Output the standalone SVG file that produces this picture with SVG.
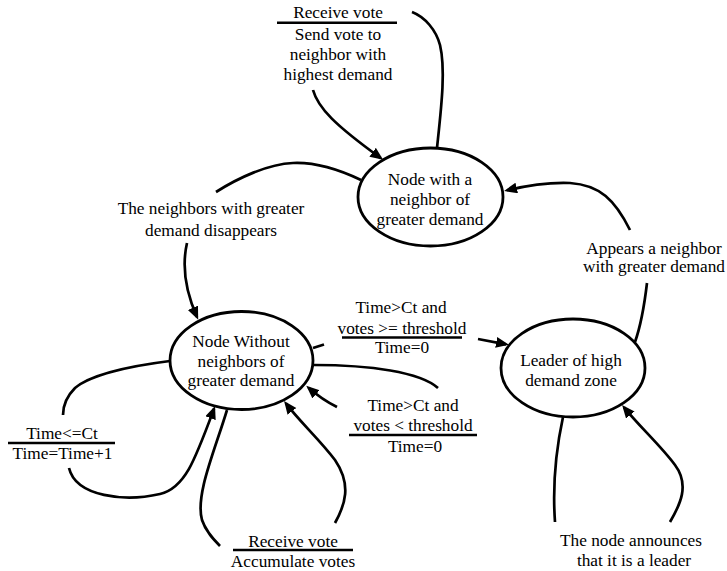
<svg xmlns="http://www.w3.org/2000/svg" width="727" height="571" viewBox="0 0 727 571" font-family="'Liberation Serif', 'Times New Roman', Times, 'DejaVu Serif', serif">
<style>
.node{fill:#fff;stroke:#000;stroke-width:2.8}
.edge{fill:none;stroke:#000;stroke-width:2.7}
.arr{marker-end:url(#ah)}
.t{font-family:'Liberation Serif','Times New Roman',Times,'DejaVu Serif',serif;font-size:17.3px;fill:#000;text-anchor:middle}
.ul{stroke:#000;stroke-width:2.4}
</style>
<defs>
<marker id="ah" markerUnits="userSpaceOnUse" markerWidth="14" markerHeight="12" refX="10" refY="5.5" orient="auto">
<path d="M0,0 L13,5.5 L0,11 Z" fill="#000"/>
</marker>
</defs>
<rect width="727" height="571" fill="#fff"/>
<g id="connectors">
<path class="edge" d="M437,148 C441,110 446,70 440,45 C436,30 425,17 412,12"/>
<path class="edge arr" d="M313,90 C318,108 335,125 380.7,158.1"/>
<path class="edge" d="M361,180 C340,170 315,162 293,163 C268,164 238,178 216,192"/>
<path class="edge arr" d="M187,243 C182,265 185,290 197,317"/>
<path class="edge" d="M313,348 L324,344.5"/>
<path class="edge arr" d="M478,339 L506,344.3"/>
<path class="edge" d="M314,365 C370,365 420,372 438,388"/>
<path class="edge arr" d="M337,407 C327,402 318,396 308.5,387.7"/>
<path class="edge" d="M170,361 C130,366 90,375 75,388 C67,396 63,405 63,415"/>
<path class="edge arr" d="M69,468 C76,497 125,502 160,494 C185,488 195,460 214,408.8"/>
<path class="edge" d="M227,410 C215,450 195,495 202,520 C206,532 214,540 220,546"/>
<path class="edge arr" d="M335,523 C345,505 352,485 335,460 C320,440 300,422 285.9,403.4"/>
<path class="edge" d="M563,417 C557,445 552,480 555,522"/>
<path class="edge arr" d="M670,522 C680,505 690,485 675,465 C662,447 640,427 624,407.3"/>
<path class="edge" d="M635,342 C641,325 645,300 647,283"/>
<path class="edge arr" d="M630,230 C615,200 600,185 570,183 C545,182 525,186 507,190.3"/>
</g>
<g id="node-with-neighbor" class="t">
<ellipse class="node" cx="430.5" cy="197" rx="72.5" ry="49"/>
<text x="430" y="185">Node with a</text>
<text x="430" y="205">neighbor of</text>
<text x="430" y="225">greater demand</text>
</g>
<g id="node-without-neighbors" class="t">
<ellipse class="node" cx="241.5" cy="360.5" rx="71.5" ry="49"/>
<text x="241" y="347">Node Without</text>
<text x="241" y="367">neighbors of</text>
<text x="241" y="386">greater demand</text>
</g>
<g id="leader" class="t">
<ellipse class="node" cx="573" cy="368" rx="72" ry="49"/>
<text x="571" y="366">Leader of high</text>
<text x="571" y="386">demand zone</text>
</g>
<g id="labels" class="t">
<text x="338" y="18">Receive vote</text>
<line class="ul" x1="277" y1="22.7" x2="397" y2="22.7"/>
<text x="338" y="40">Send vote to</text>
<text x="338" y="60">neighbor with</text>
<text x="338" y="80">highest demand</text>
<text x="211" y="214">The neighbors with greater</text>
<text x="211" y="236">demand disappears</text>
<text x="654" y="253.5">Appears a neighbor</text>
<text x="654" y="272">with greater demand</text>
<text x="401" y="313">Time&gt;Ct and</text>
<text x="402" y="334">votes &gt;= threshold</text>
<line class="ul" x1="342" y1="337.5" x2="462" y2="337.5"/>
<text x="402" y="353">Time=0</text>
<text x="413" y="411">Time&gt;Ct and</text>
<text x="413" y="431">votes &lt; threshold</text>
<line class="ul" x1="349" y1="435" x2="477" y2="435"/>
<text x="415" y="451.5">Time=0</text>
<text x="62" y="439">Time&lt;=Ct</text>
<line class="ul" x1="8" y1="443" x2="115" y2="443"/>
<text x="62.5" y="458.5">Time=Time+1</text>
<text x="293" y="547">Receive vote</text>
<line class="ul" x1="233" y1="550" x2="353" y2="550"/>
<text x="293" y="567">Accumulate votes</text>
<text x="631" y="546">The node announces</text>
<text x="634" y="566">that it is a leader</text>
</g>
</svg>
